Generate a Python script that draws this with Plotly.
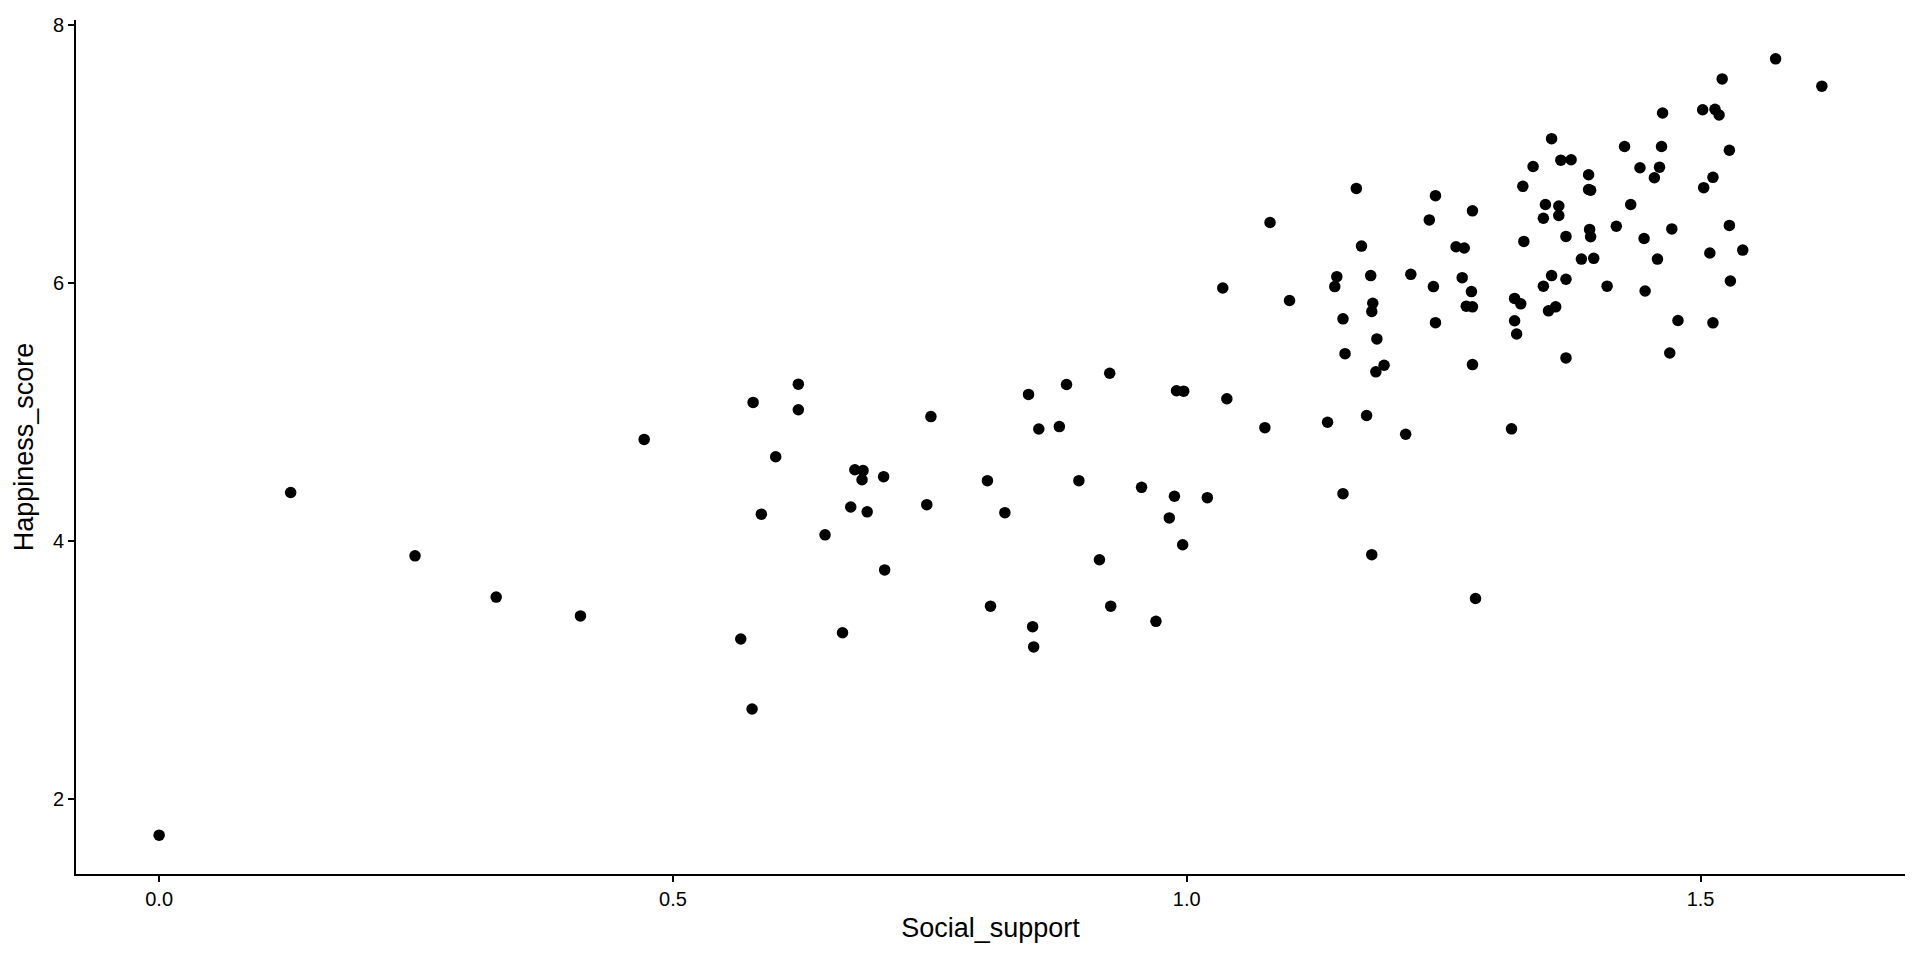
import plotly.graph_objects as go

# Social support (x) and Happiness score (y)
social_support = [
    0.000, 0.128, 0.249, 0.328, 0.410, 0.472,
    0.578, 0.622, 0.622, 0.751, 0.600, 0.677, 0.685, 0.684, 0.705, 0.806,
    0.895, 0.956, 0.988, 1.020, 0.983, 0.996, 0.586, 0.673, 0.689, 0.747,
    0.823, 0.648, 0.706, 0.915, 0.809, 0.926, 0.970, 0.850, 0.851, 0.566,
    0.665, 0.577, 0.846, 0.883, 0.925, 0.990, 0.997, 1.039, 0.856, 0.876,
    1.355, 1.337, 1.364, 1.374, 1.327, 1.349, 1.362, 1.362, 1.347, 1.369,
    1.328, 1.355, 1.369, 1.347, 1.319, 1.325, 1.352, 1.359, 1.319, 1.321,
    1.369, 1.165, 1.242, 1.278, 1.236, 1.081, 1.170, 1.262, 1.270, 1.146,
    1.144, 1.179, 1.218, 1.240, 1.268, 1.277, 1.272, 1.278, 1.100, 1.181,
    1.180, 1.152, 1.242, 1.185, 1.154, 1.192, 1.184, 1.278, 1.076, 1.137,
    1.175, 1.213, 1.316,
    1.152, 1.180, 1.281,
    1.573, 1.618, 1.521, 1.463, 1.502, 1.514, 1.518, 1.426, 1.462, 1.528,
    1.441, 1.460, 1.455, 1.391, 1.391, 1.393, 1.512, 1.503, 1.432, 1.392,
    1.393, 1.418, 1.472, 1.445, 1.528, 1.384, 1.396, 1.458, 1.509, 1.541,
    1.529, 1.409, 1.446, 1.478, 1.512, 1.470,
    1.035,
]
happiness_score = [
    1.721, 4.378, 3.887, 3.567, 3.421, 4.790,
    5.077, 5.218, 5.020, 4.967, 4.655, 4.555, 4.548, 4.477, 4.501, 4.470,
    4.470, 4.418, 4.349, 4.338, 4.181, 3.973, 4.210, 4.266, 4.228, 4.284,
    4.222, 4.050, 3.778, 3.857, 3.497, 3.497, 3.379, 3.338, 3.181, 3.242,
    3.291, 2.699, 5.139, 5.216, 5.303, 5.167, 5.164, 5.105, 4.871, 4.889,
    7.122, 6.906, 6.955, 6.958, 6.752, 6.611, 6.600, 6.526, 6.505, 6.364,
    6.325, 6.060, 6.032, 5.978, 5.883, 5.841, 5.787, 5.818, 5.710, 5.607,
    5.422, 6.736, 6.680, 6.562, 6.492, 6.472, 6.289, 6.284, 6.274, 6.052,
    5.975, 6.060, 6.070, 5.975, 6.044, 5.936, 5.823, 5.818, 5.867, 5.846,
    5.782, 5.725, 5.695, 5.569, 5.455, 5.365, 5.314, 5.370, 4.881, 4.923,
    4.975, 4.830, 4.872,
    4.369, 3.896, 3.556,
    7.741, 7.529, 7.585, 7.321, 7.346, 7.349, 7.305, 7.061, 7.061, 7.032,
    6.896, 6.901, 6.819, 6.842, 6.728, 6.722, 6.822, 6.742, 6.611, 6.418,
    6.361, 6.443, 6.422, 6.348, 6.449, 6.188, 6.194, 6.188, 6.235, 6.258,
    6.018, 5.978, 5.941, 5.712, 5.694, 5.460,
    5.964,
]

x_ticks = [0.0, 0.5, 1.0, 1.5]
x_tick_labels = ["0.0", "0.5", "1.0", "1.5"]
y_ticks = [2, 4, 6, 8]
y_tick_labels = ["2", "4", "6", "8"]

FONT = "Liberation Sans, Arial, Helvetica, sans-serif"

fig = go.Figure(
    go.Scatter(
        x=social_support,
        y=happiness_score,
        mode="markers",
        marker=dict(color="black", size=11.5, line=dict(width=0)),
        hoverinfo="x+y",
    )
)

# ggplot-style 5% expansion of the data range
xmin, xmax = min(social_support), max(social_support)
ymin, ymax = min(happiness_score), max(happiness_score)
xpad = 0.05 * (xmax - xmin)
ypad = 0.05 * (ymax - ymin)

axis_common = dict(
    showline=True,
    linecolor="black",
    linewidth=2,
    ticks="outside",
    ticklen=6,
    tickwidth=2,
    tickcolor="black",
    showgrid=False,
    zeroline=False,
    mirror=False,
    tickfont=dict(family=FONT, size=20, color="black"),
)

# the page body has an 8px default margin, so the figure is sized to fit the window
fig.update_layout(
    width=1912,
    height=952,
    paper_bgcolor="white",
    plot_bgcolor="white",
    margin=dict(l=68, r=15, t=6, b=86),
    showlegend=False,
    xaxis=dict(
        range=[xmin - xpad, xmax + xpad],
        tickvals=x_ticks,
        ticktext=x_tick_labels,
        title=dict(text="Social_support", font=dict(family=FONT, size=27, color="black"), standoff=9),
        **axis_common,
    ),
    yaxis=dict(
        range=[ymin - ypad, ymax + ypad],
        tickvals=y_ticks,
        ticktext=y_tick_labels,
        title=dict(text="Happiness_score", font=dict(family=FONT, size=27, color="black"), standoff=11),
        **axis_common,
    ),
)

fig.write_html("out.html")
